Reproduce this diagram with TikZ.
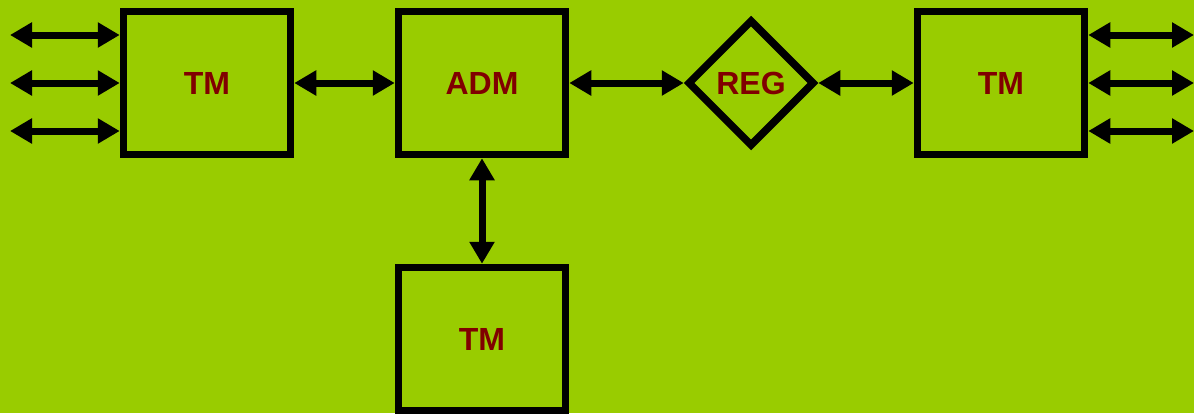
\documentclass[tikz,border=0pt]{standalone}
\usepackage{fontspec}
\setmainfont{Liberation Sans}
\usetikzlibrary{arrows.meta,shapes.geometric}
\definecolor{bg}{HTML}{99CC00}
\definecolor{lbl}{HTML}{800000}
\tikzset{
  blk/.style={draw=black, line width=7.5pt, minimum width=167pt, minimum height=143pt, inner sep=0pt,
    font=\fontsize{32}{36}\selectfont\bfseries, text=lbl},
  regbox/.style={draw=black, diamond, aspect=1, line width=7.5pt, minimum size=127pt, inner sep=0pt,
    font=\fontsize{32}{36}\selectfont\bfseries, text=lbl},
  link/.style={line width=7pt, {Triangle[length=22pt,width=24pt]}-{Triangle[length=22pt,width=24pt]}}
}
\begin{document}
\begin{tikzpicture}[x=1pt,y=1pt]
\fill[bg] (0,0) rectangle (1194,-413);
\useasboundingbox (0,0) rectangle (1194,-413);
\node[blk] (tm1) at (207,-83) {TM};
\node[blk] (adm) at (482,-83) {ADM};
\node[regbox] (reg) at (751,-83) {REG};
\node[blk] (tm2) at (1001,-83) {TM};
\node[blk] (tm3) at (482,-339) {TM};
\coordinate (l1) at (10,-35);
\coordinate (l2) at (10,-83);
\coordinate (l3) at (10,-131);
\coordinate (r1) at (1194,-35);
\coordinate (r2) at (1194,-83);
\coordinate (r3) at (1194,-131);
\draw[link] (l1) -- (l1 -| tm1.west);
\draw[link] (l2) -- (l2 -| tm1.west);
\draw[link] (l3) -- (l3 -| tm1.west);
\draw[link] (r1 -| tm2.east) -- (r1);
\draw[link] (r2 -| tm2.east) -- (r2);
\draw[link] (r3 -| tm2.east) -- (r3);
\draw[link] (tm1.east) -- (adm.west);
\draw[link] (adm.east) -- (reg.west);
\draw[link] (reg.east) -- (tm2.west);
\draw[link] (adm.south) -- (tm3.north);
\end{tikzpicture}
\end{document}
